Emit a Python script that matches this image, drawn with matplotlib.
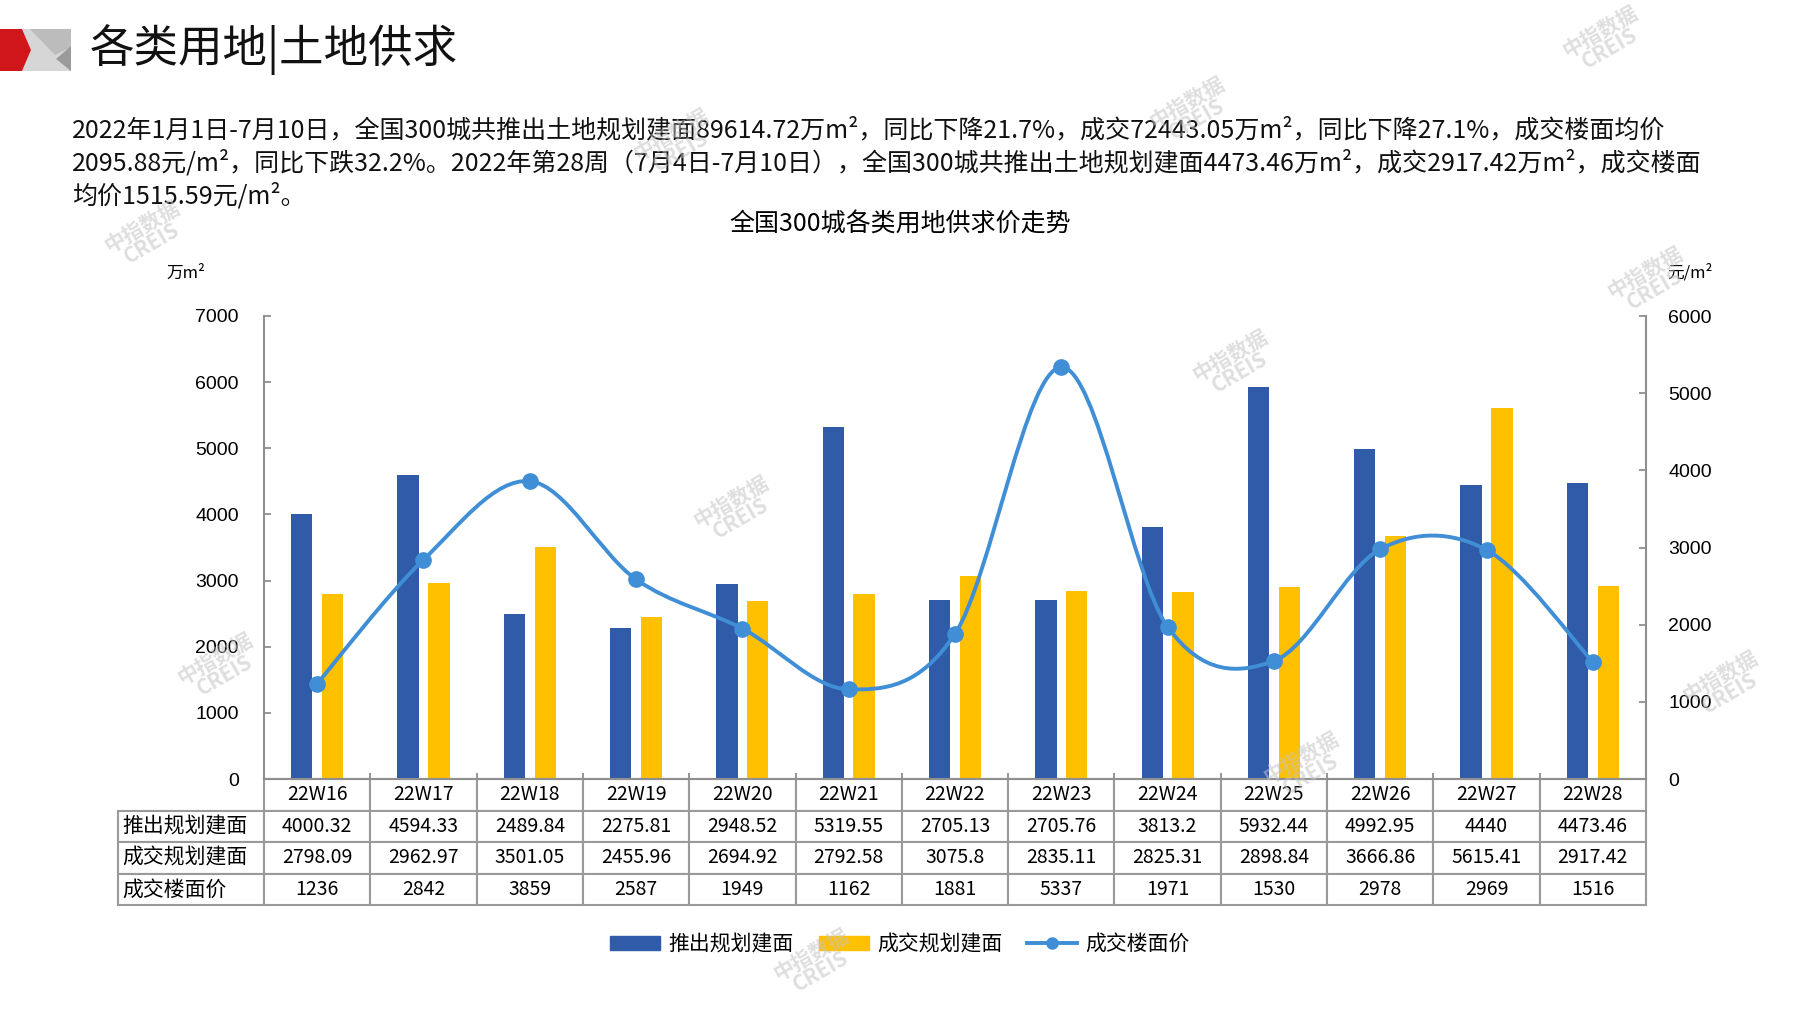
import numpy as np
import matplotlib
matplotlib.use("Agg")
import matplotlib.pyplot as plt
from matplotlib.path import Path
from matplotlib.patches import PathPatch, Polygon, Patch
from matplotlib.lines import Line2D
from matplotlib.table import Table

plt.rcParams['font.family'] = ['Noto Sans CJK SC', 'DejaVu Sans']

W, H = 1797, 1010

weeks = ['22W16', '22W17', '22W18', '22W19', '22W20', '22W21', '22W22',
         '22W23', '22W24', '22W25', '22W26', '22W27', '22W28']
supply = [4000.32, 4594.33, 2489.84, 2275.81, 2948.52, 5319.55, 2705.13,
          2705.76, 3813.2, 5932.44, 4992.95, 4440, 4473.46]
deal = [2798.09, 2962.97, 3501.05, 2455.96, 2694.92, 2792.58, 3075.8,
        2835.11, 2825.31, 2898.84, 3666.86, 5615.41, 2917.42]
price = [1236, 2842, 3859, 2587, 1949, 1162, 1881, 5337, 1971, 1530, 2978, 2969, 1516]
row_names = ['推出规划建面', '成交规划建面', '成交楼面价']

BLUE = '#2F5BA9'
YELLOW = '#FFC000'
LINE = '#3F8ED6'
GREY = '#8f8f8f'

para = [
    "2022年1月1日-7月10日，全国300城共推出土地规划建面89614.72万m²，同比下降21.7%，成交72443.05万m²，同比下降27.1%，成交楼面均价",
    "2095.88元/m²，同比下跌32.2%。2022年第28周（7月4日-7月10日），全国300城共推出土地规划建面4473.46万m²，成交2917.42万m²，成交楼面",
    "均价1515.59元/m²。",
]


def smooth_path(xs, ys):
    # excel-like smoothed line: cubic bezier through each point
    pts = np.column_stack([xs, ys]).astype(float)
    ext = np.vstack([pts[0], pts, pts[-1]])
    verts = [pts[0]]
    codes = [Path.MOVETO]
    for i in range(len(pts) - 1):
        p0, p1, p2, p3 = ext[i], ext[i + 1], ext[i + 2], ext[i + 3]
        verts += [p1 + (p2 - p0) / 6, p2 - (p3 - p1) / 6, p2]
        codes += [Path.CURVE4] * 3
    return Path(verts, codes)


fig = plt.figure(figsize=(W / 100, H / 100), dpi=100)

# background layer in pixel coords: logo, header, paragraph
bg = fig.add_axes([0, 0, 1, 1], zorder=-1)
bg.set_xlim(0, W)
bg.set_ylim(H, 0)
bg.axis('off')
bg.add_patch(Polygon([(22, 29), (71, 29), (71, 71), (22, 71), (31, 50)], closed=True,
                     facecolor='#d6d6d6', edgecolor='none'))
bg.add_patch(Polygon([(30, 29), (71, 29), (71, 47), (55, 55)], closed=True,
                     facecolor='#bcbcbc', edgecolor='none'))
bg.add_patch(Polygon([(56, 59), (71, 46), (71, 71)], closed=True,
                     facecolor='#9a9a9a', edgecolor='none'))
bg.add_patch(Polygon([(0, 29), (22, 29), (31, 50), (22, 71), (0, 71)], closed=True,
                     facecolor='#d0161b', edgecolor='none'))
bg.text(90, 50, '各类用地|土地供求', fontsize=32, va='center', ha='left', color='#111111')
for i, line in enumerate(para):
    bg.text(72, 130 + 33 * i, line, fontsize=18, va='center', ha='left', color='#111111')
bg.text(900, 225, '全国300城各类用地供求价走势', fontsize=18, ha='center', va='center')
bg.text(186, 273, '万m²', fontsize=12, ha='center', va='center')
bg.text(1690, 273, '元/m²', fontsize=12, ha='center', va='center')

# main chart
ax = fig.add_axes([264 / W, 1 - 779 / H, (1646 - 264) / W, (779 - 316) / H])
x = np.arange(len(weeks))
ax.bar(x - 0.145, supply, width=0.2, color=BLUE, zorder=2)
ax.bar(x + 0.145, deal, width=0.2, color=YELLOW, zorder=2)
ax.set_xlim(-0.5, len(weeks) - 0.5)
ax.set_ylim(0, 7000)
ax.set_yticks(np.arange(0, 7001, 1000))
ax.set_xticks(np.arange(-0.5, len(weeks), 1))
ax.set_xticklabels([])
ax.tick_params(axis='x', direction='in', length=4, color=GREY, width=1.3)
ax.tick_params(axis='y', direction='in', length=5, color=GREY, width=1.3, pad=18, labelsize=14)
for lbl in ax.get_yticklabels():
    lbl.set_fontfamily(['Liberation Sans', 'DejaVu Sans'])
for s in ['top', 'right']:
    ax.spines[s].set_visible(False)
for s in ['left', 'bottom']:
    ax.spines[s].set_color(GREY)
    ax.spines[s].set_linewidth(1.5)

ax2 = ax.twinx()
ax2.set_ylim(0, 6000)
ax2.set_yticks(np.arange(0, 6001, 1000))
ax2.tick_params(axis='y', direction='in', length=5, color=GREY, width=1.3, pad=16, labelsize=14)
for lbl in ax2.get_yticklabels():
    lbl.set_fontfamily(['Liberation Sans', 'DejaVu Sans'])
for s in ['top', 'left', 'bottom']:
    ax2.spines[s].set_visible(False)
ax2.spines['right'].set_color(GREY)
ax2.spines['right'].set_linewidth(1.5)
ax2.add_patch(PathPatch(smooth_path(x, price), facecolor='none', edgecolor=LINE,
                        linewidth=2.8, zorder=3))
ax2.plot(x, price, linestyle='none', marker='o', markersize=11, color=LINE, zorder=4)

# data table below the axis (bbox covers the grid only, label column sits left of it)
lab_w = (264 - 118) / (1646 - 264)
tbl_h = (905 - 779) / (779 - 316)
cell_text = [[f"{v:g}" for v in supply],
             [f"{v:g}" for v in deal],
             [f"{v:g}" for v in price]]
col_w = 1 / len(weeks)
tbl = Table(ax, bbox=[0, -tbl_h, 1, tbl_h])
tbl.auto_set_font_size(False)
for j, wk in enumerate(weeks):
    tbl.add_cell(0, j, width=col_w, height=1, text=wk, loc='center')
for i, name in enumerate(row_names):
    tbl.add_cell(i + 1, -1, width=lab_w, height=1, text=name, loc='left')
    for j in range(len(weeks)):
        tbl.add_cell(i + 1, j, width=col_w, height=1, text=cell_text[i][j], loc='center')
for (r, c), cell in tbl.get_celld().items():
    cell.set_edgecolor('#9a9a9a')
    cell.set_linewidth(1.5)
    cell.get_text().set_fontsize(14)
    if c == -1:
        cell.PAD = 0.03
        cell.get_text().set_fontsize(15)
ax.add_table(tbl)

handles = [Patch(color=BLUE), Patch(color=YELLOW),
           Line2D([], [], color=LINE, linewidth=2.8, marker='o', markersize=8)]
fig.legend(handles, row_names, loc='center', bbox_to_anchor=(900 / W, 1 - 944 / H),
           ncol=3, frameon=False, fontsize=15, handlelength=2.4, handleheight=0.65,
           handletextpad=0.4, columnspacing=1.2)

# watermarks
marks = [(1605, 40), (1192, 111), (676, 143), (147, 235), (1650, 281), (1235, 364),
         (736, 510), (220, 667), (1725, 685), (1306, 766), (816, 963)]
for mx, my in marks:
    fig.text(mx / W, 1 - my / H, '中指数据\nCREIS', rotation=30, color='#c4c4c4',
             alpha=0.55, fontsize=15, fontweight='bold', ha='center', va='center',
             linespacing=0.85, zorder=10)

fig.savefig('out.png', dpi=100)
